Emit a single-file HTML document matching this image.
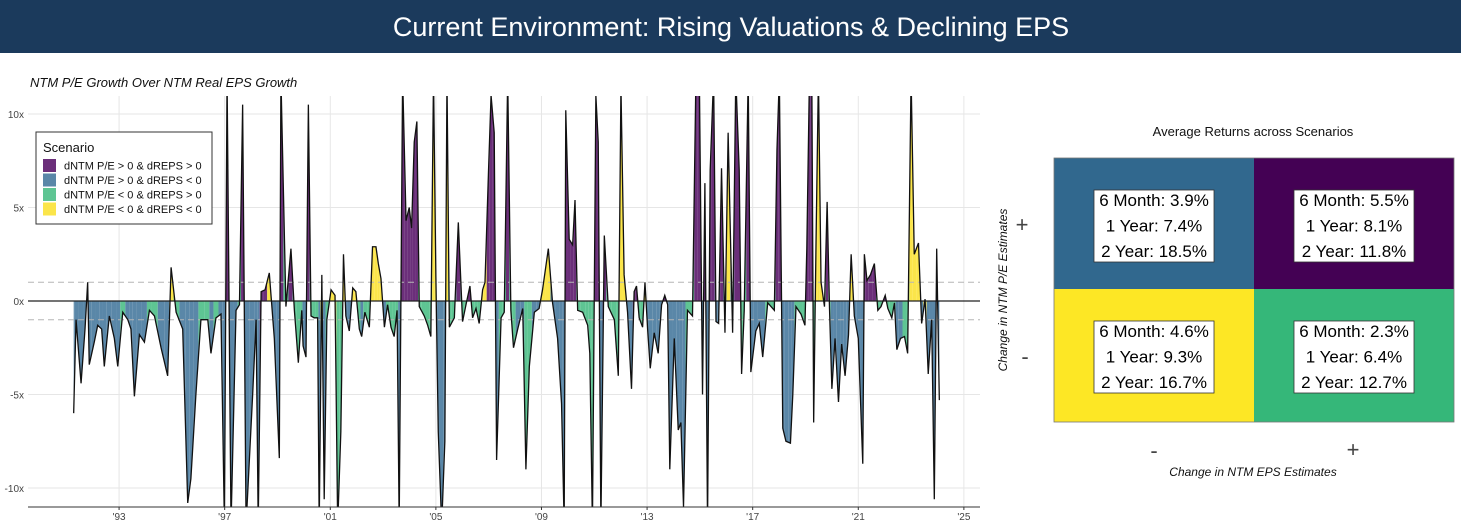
<!DOCTYPE html>
<html><head><meta charset="utf-8">
<style>
html,body{margin:0;padding:0;background:#fff;}
body{width:1461px;height:522px;overflow:hidden;font-family:"Liberation Sans",Arial,sans-serif;}
</style></head>
<body>
<svg id="chart" width="1461" height="522" xmlns="http://www.w3.org/2000/svg" font-family="Liberation Sans, Arial, sans-serif">
  <rect x="0" y="0" width="1461" height="53" fill="#1b3a5c"/>
  <text x="731" y="36" text-anchor="middle" fill="#fff" font-size="27">Current Environment: Rising Valuations &amp; Declining EPS</text>
  <text x="30" y="87" font-size="13" font-style="italic" fill="#111">NTM P/E Growth Over NTM Real EPS Growth</text>
  <g id="left-chart"></g>
  <g id="quad"></g>
</svg>
<script>
// ---- time series data ----
const dates=[1991.28,1991.37,1991.56,1991.71,1991.81,1991.87,1992.06,1992.19,1992.34,1992.44,1992.63,1992.82,1992.95,1993.14,1993.33,1993.45,1993.58,1993.77,1993.96,1994.15,1994.34,1994.59,1994.84,1994.97,1995.16,1995.41,1995.60,1995.72,1995.91,1996.10,1996.36,1996.48,1996.67,1996.86,1996.99,1997.09,1997.24,1997.43,1997.56,1997.68,1997.81,1998.06,1998.19,1998.27,1998.38,1998.53,1998.69,1998.88,1999.07,1999.13,1999.32,1999.51,1999.64,1999.79,
1999.92,1999.97,2000.08,2000.17,2000.27,2000.39,2000.52,2000.58,2000.68,2000.77,2000.87,2001.03,2001.18,2001.28,2001.40,2001.50,2001.59,2001.72,2001.85,2001.97,2002.10,2002.19,2002.31,2002.48,2002.60,2002.73,2002.82,2002.92,2003.05,2003.17,2003.30,2003.42,2003.53,2003.61,2003.74,2003.87,2003.99,2004.08,2004.18,2004.28,2004.37,2004.56,2004.69,2004.81,2004.91,2005.00,2005.09,2005.22,2005.34,2005.42,2005.51,2005.70,2005.85,2006.01,2006.14,2006.29,2006.39,2006.52,2006.64,2006.77,2006.86,2006.99,2007.09,2007.21,2007.30,2007.47,2007.59,2007.72,2007.84,2007.94,2008.10,2008.29,2008.41,
2008.54,2008.73,2008.91,2009.04,2009.26,2009.42,2009.61,2009.76,2009.86,2009.92,2010.05,2010.18,2010.27,2010.37,2010.56,2010.75,2010.83,2010.93,2011.06,2011.15,2011.25,2011.38,2011.53,2011.76,2011.91,2012.01,2012.13,2012.26,2012.41,2012.51,2012.60,2012.70,2012.83,2012.92,2013.02,2013.12,2013.27,2013.42,2013.55,2013.67,2013.78,2013.86,2014.03,2014.18,2014.28,2014.38,2014.53,2014.72,2014.85,2014.98,2015.10,2015.19,2015.29,2015.39,2015.52,2015.61,2015.71,2015.82,2015.95,2016.07,2016.24,2016.36,2016.49,2016.58,2016.68,2016.83,2016.93,2017.12,2017.25,
2017.38,2017.57,2017.82,2017.92,2018.01,2018.14,2018.26,2018.43,2018.52,2018.64,2018.83,2018.98,2019.05,2019.15,2019.24,2019.31,2019.40,2019.49,2019.59,2019.72,2019.82,2019.91,2020.00,2020.12,2020.25,2020.37,2020.50,2020.63,2020.73,2020.85,2021.00,2021.17,2021.23,2021.33,2021.46,2021.61,2021.74,2021.86,2022.02,2022.12,2022.27,2022.37,2022.46,2022.60,2022.75,2022.87,2023.00,2023.12,2023.28,2023.40,2023.53,2023.65,2023.78,2023.88,2023.97,2024.07];
const values=[-6.0,-1.0,-4.4,-1.5,1.0,-3.4,-2.2,-1.3,-1.5,-3.5,-0.8,-2.0,-3.5,-0.6,-1.0,-1.5,-5.1,-1.8,-2.2,-0.5,-0.8,-2.5,-4.0,1.8,-0.6,-1.5,-10.8,-9.5,-5.0,-1.0,-1.0,-2.8,-0.9,-0.7,-12,12,-12,-0.5,-0.2,10.5,-12,-5.0,-1.0,-12,0.5,0.6,1.5,-2.0,-8.4,12,-0.3,2.8,-0.5,-3.3,
-0.5,-2.4,-3.0,10.5,-0.8,-0.9,-0.9,-12,1.4,-10.6,-1.0,0.6,0.3,-12,-7,2.5,-0.8,-1.6,0.7,0.5,-1.5,-1.9,-0.6,-1.4,2.9,2.9,2.0,1.2,-1.4,-0.2,-1.4,-1.9,-0.5,-12,12,4.3,5.0,3.9,8.5,9.6,-0.3,-0.8,-1.3,-1.9,12,1.3,-7,-12,-7.5,12,-1.4,-0.9,4.2,-1.1,-0.2,0.8,-0.9,-0.4,-1.2,0.6,1.0,6.8,11,9,-8.5,-0.9,-0.6,12,-0.5,-2.5,-1.5,-0.4,-9,
-3.5,-0.6,-0.4,0.6,2.8,-0.1,-2,-5.5,-12,10.2,3.3,3.0,5.4,-0.5,-0.6,-1.3,-2.8,-12,11,8.5,-12,3.5,-0.3,-1.0,-4.0,11.5,1.4,-0.6,-4.7,0.5,0.8,-0.9,-1.4,1.0,-1.5,-3.6,-1.7,-2.8,-0.2,0.3,-0.2,-9,-2.0,-6.9,-6.5,-11,-0.5,-0.8,12,12,-5.0,6.3,-12,7.0,12,-1.1,-1.2,7.1,-1.7,9,-1.7,12,7,-3.9,-0.5,12,-3.8,-1.6,-1.2,
-3.0,-0.1,-0.5,8.1,12,-6.8,-7.5,-7.6,-5,-0.3,-0.7,-1.3,2.8,12,12,-6.5,3.2,12,1,-0.3,5.3,-0.4,-4.7,-2.0,-5.4,-2.3,-4.0,-1.8,2.5,-0.8,-2.0,-8.7,2.5,1.1,1.4,2.0,-0.5,-0.3,0.3,-0.4,-0.9,-0.1,-2.6,-2.0,-1.9,-2.8,12,2.5,3.1,-1.2,0.1,-3.9,-1.0,-10.6,2.8,-5.3];
const scenarios="BBBBYBBBBBBBBGBBBBBGGBBYGBBBBGGBGBBPBBGPBBBBPPYBBPGPGG GBBPGGGBYBGYYGGYBBYYGBGGYYYYBGGGGBPPPPPPGGGGYYBBBYGGPGGPGGGYYPPPBGGPGGBBG GBBYYBBBBPPPPGGGGGPPBPGGGYYBBPPGGYBBBBBPBBBBBBGGPPBPBPPBBPBYBPPGGPBBB BGGPPBBBBGGGPPPGYYYGPGBBBBBBYBBBPPPPGGPGGGBBGGYYYBYBBBPB".replace(/ /g,'');
const yTicks=[10,5,0,-5,-10];
const yTickLabels=["10x","5x","0x","-5x","-10x"];
const xTicks=[1993,1997,2001,2005,2009,2013,2017,2021,2025];
const xTickLabels=["'93","'97","'01","'05","'09","'13","'17","'21","'25"];
const scenarioNames=["dNTM P/E > 0 & dREPS > 0","dNTM P/E > 0 & dREPS < 0","dNTM P/E < 0 & dREPS > 0","dNTM P/E < 0 & dREPS < 0"];
const scenarioKeys=["P","B","G","Y"];
// ---- quadrant data ----
const quadLabels=[["6 Month: 3.9%","1 Year: 7.4%","2 Year: 18.5%"],["6 Month: 5.5%","1 Year: 8.1%","2 Year: 11.8%"],["6 Month: 4.6%","1 Year: 9.3%","2 Year: 16.7%"],["6 Month: 2.3%","1 Year: 6.4%","2 Year: 12.7%"]];

const NS="http://www.w3.org/2000/svg";
const fills={P:"#6b2f7a",B:"#5a87a8",G:"#5ec593",Y:"#fbe54a"};
const L=28,R=980,T=96,B=507;
const x0=1989.55,pxYear=26.4;
function sx(d){return L+(d-x0)*pxYear;}
function sy(v){return 301-v*18.7;}
function mk(tag,attrs,parent){const e=document.createElementNS(NS,tag);for(const k in attrs)e.setAttribute(k,attrs[k]);parent.appendChild(e);return e;}
const g=document.getElementById('left-chart');
const defs=mk('defs',{},g);
const cp=mk('clipPath',{id:'plotclip'},defs);
mk('rect',{x:L,y:T,width:R-L,height:B-T},cp);
yTicks.forEach((t,i)=>{
  const ln=mk('line',{x1:L,x2:R,y1:sy(t),y2:sy(t),stroke:'#e6e6e6','stroke-width':1},g);
  
  
  const tx=mk('text',{x:L-4,y:sy(t)+4,'text-anchor':'end','font-size':10,fill:'#444'},g);
  tx.textContent=yTickLabels[i];
  
  
});
xTicks.forEach((t,i)=>{
  const ln=mk('line',{x1:sx(t),x2:sx(t),y1:T,y2:B,stroke:'#e6e6e6','stroke-width':1},g);
  
  
  const tk=mk('line',{x1:sx(t),x2:sx(t),y1:B,y2:B+3,stroke:'#333'},g);
  
  
  const tx=mk('text',{x:sx(t),y:B+13,'text-anchor':'middle','font-size':10,fill:'#444'},g);
  tx.textContent=xTickLabels[i];
  
  
});
const areas=mk('g',{'clip-path':'url(#plotclip)'},g);


const n=values.length;
for(let i=0;i<n;i++){
  const xi=sx(dates[i]),yi=sy(values[i]);
  const xp=i>0?(sx(dates[i-1])+xi)/2:xi, yp=i>0?(sy(values[i-1])+yi)/2:yi;
  const xn=i<n-1?(sx(dates[i+1])+xi)/2:xi, yn=i<n-1?(sy(values[i+1])+yi)/2:yi;
  const z=sy(0);
  const p=mk('polygon',{points:`${xp},${z} ${xp},${yp} ${xi},${yi} ${xn},${yn} ${xn},${z}`,fill:fills[scenarios[i]]||fills.B},areas);
  
  
}
[1,-1].forEach(v=>{
  const d=mk('line',{x1:L,x2:R,y1:sy(v),y2:sy(v),stroke:'#b5b5b5','stroke-dasharray':'6,4','stroke-width':1},g);
  
  
});
const zl=mk('line',{x1:L,x2:R,y1:sy(0),y2:sy(0),stroke:'#222','stroke-width':1.3},g);


const line=mk('polyline',{points:dates.map((d,i)=>sx(d)+','+sy(values[i])).join(' '),fill:'none',stroke:'#111','stroke-width':1.3,'clip-path':'url(#plotclip)'},g);


const ax=mk('line',{x1:L,x2:R,y1:B,y2:B,stroke:'#333','stroke-width':1},g);


const lg=mk('g',{},g);


mk('rect',{x:36,y:132,width:176,height:92,fill:'#fff',stroke:'#333','stroke-width':1},lg);
const lt=mk('text',{x:43,y:152,'font-size':13,fill:'#111'},lg);
lt.textContent='Scenario';


scenarioNames.forEach((s,i)=>{
  const yy=159+i*14.5;
  const sw=mk('rect',{x:43,y:yy,width:13,height:13,fill:fills[scenarioKeys[i]]},lg);
  
  
  const tx=mk('text',{x:64,y:yy+10.5,'font-size':11,fill:'#111'},lg);
  tx.textContent=s;
  
  
});
const q=document.getElementById('quad');
const qt=mk('text',{x:1253,y:136,'text-anchor':'middle','font-size':13,fill:'#111'},q);
qt.textContent='Average Returns across Scenarios';


const cells=[[1054,158,'#31688e'],[1254,158,'#440154'],[1054,289,'#fde725'],[1254,289,'#35b779']];
cells.forEach((c,i)=>{
  const r=mk('rect',{x:c[0],y:c[1],width:200,height:i<2?131:133,fill:c[2]},q);
  
  
  const cx=c[0]+100,top=c[1];
  const box=mk('rect',{x:cx-60,y:top+32,width:120,height:72,fill:'#fff',stroke:'#333','stroke-width':0.8},q);
  
  
  quadLabels[i].forEach((t,j)=>{
    const tx=mk('text',{x:cx,y:top+48+j*25.5,'text-anchor':'middle','font-size':17,fill:'#000'},q);
    tx.textContent=t;
    
    
  });
});
mk('rect',{x:1054,y:158,width:400,height:264,fill:'none',stroke:'#777','stroke-width':0.8},q);
const marks=[[1022,232,'+'],[1025,364,'-'],[1154,458,'-'],[1353,457,'+']];
marks.forEach(m=>{
  const tx=mk('text',{x:m[0],y:m[1],'text-anchor':'middle','font-size':22,fill:'#444'},q);
  tx.textContent=m[2];
  
  
});
const xt=mk('text',{x:1253,y:476,'text-anchor':'middle','font-size':12,'font-style':'italic',fill:'#111'},q);
xt.textContent='Change in NTM EPS Estimates';


const yt=mk('text',{x:0,y:0,'text-anchor':'middle','font-size':12,'font-style':'italic',fill:'#111',transform:'translate(1007,290) rotate(-90)'},q);
yt.textContent='Change in NTM P/E Estimates';


</script>
</body></html>
